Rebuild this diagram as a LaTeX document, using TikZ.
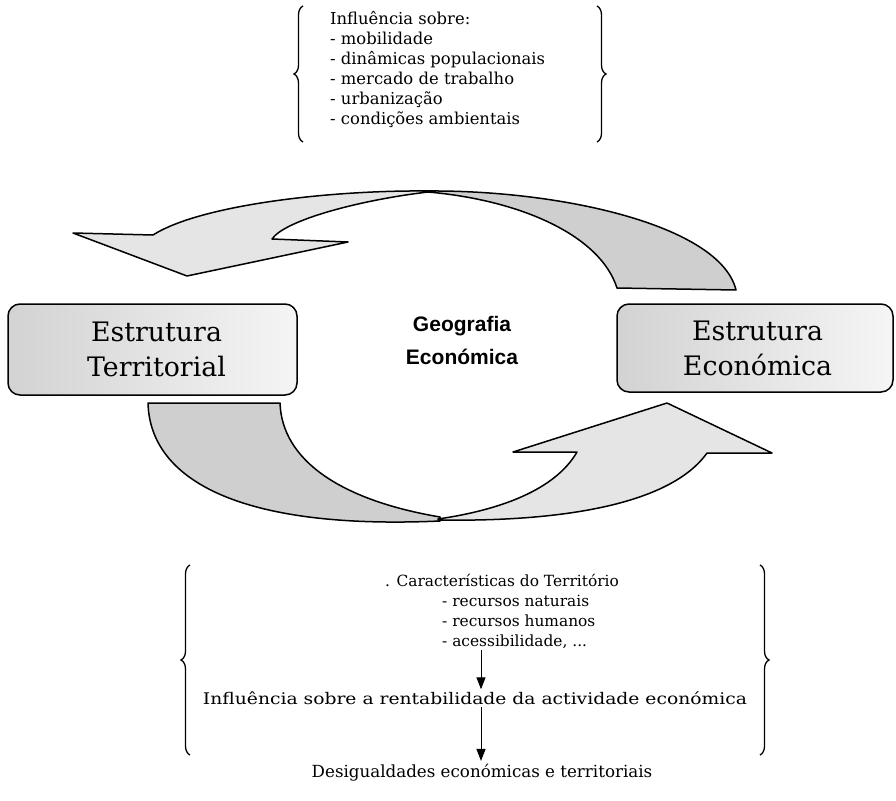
\documentclass[tikz,border=0pt]{standalone}
\usepackage{fontspec}
\setmainfont{DejaVu Serif}
\newfontfamily\headfont{Liberation Sans}
\newfontfamily\widefont[FakeStretch=1.17]{DejaVu Serif}
\usetikzlibrary{decorations.pathreplacing,arrows.meta}

\begin{document}
\begin{tikzpicture}[x=1pt,y=-1pt,
  outline/.style={draw=black, line width=1.5pt, line join=round},
  lightfill/.style={outline, fill=gray!20},
  darkfill/.style={outline, fill=gray!38},
  structbox/.style={draw=black, line width=1.5pt, rounded corners=12pt,
    left color=gray!35, right color=gray!8, minimum height=91pt,
    align=center, font=\fontsize{26.8}{35}\selectfont},
  curly/.style={decorate, decoration={brace, amplitude=9pt}, line width=1.3pt},
  notetext/.style={font=\fontsize{16.4}{20}\selectfont, align=left, inner sep=0pt},
  listitem/.style={font=\fontsize{15.4}{20}\selectfont, inner sep=2pt},
  flow/.style={line width=1pt, -{Triangle[length=12pt,width=9pt]}}
]
\useasboundingbox (0,0) rectangle (896,800);

% ---- influence list at the top ----
\node[notetext, anchor=north west] (infl) at (330,11)
  {Influência sobre:\\- mobilidade\\- dinâmicas populacionais\\- mercado de trabalho\\- urbanização\\- condições ambientais};
\draw[curly] (303,142) -- (303,6);
\draw[curly] (597,6) -- (597,142);

% ---- upper ribbon arrow (economy -> territory) ----
\filldraw[darkfill] (428,191) .. controls (560,190) and (720,225) .. (736,290)
  -- (617,288) .. controls (600,235) and (520,200) .. (428,192) -- cycle;
\filldraw[lightfill] (428,191) .. controls (330,190) and (200,205) .. (153,235)
  -- (73,233) -- (187,276) -- (348,242) -- (272,239)
  .. controls (285,220) and (360,200) .. (428,192) -- cycle;

% ---- lower ribbon arrow (territory -> economy) ----
\filldraw[darkfill] (148,403) -- (280,403) .. controls (282,460) and (340,500) .. (440,517)
  -- (440,521) .. controls (240,530) and (150,480) .. (148,403) -- cycle;
\filldraw[lightfill] (438,519) .. controls (500,510) and (555,490) .. (577,452)
  -- (513,452) -- (667,403) -- (772,453) -- (707,453)
  .. controls (670,505) and (560,522) .. (438,520) -- cycle;

% ---- the two structures and the central title ----
\node[structbox, minimum width=289pt] (terr) at (152.5,349.5)
  {\hspace*{8pt}Estrutura\\\hspace*{8pt}Territorial};
\node[structbox, minimum width=276pt, minimum height=88pt] (econ) at (755,348)
  {\hspace*{5pt}Estrutura\\\hspace*{5pt}Económica};
\node[align=center, font=\headfont\bfseries\fontsize{21}{33}\selectfont] (geo) at (462,340)
  {Geografia\\Económica};

% ---- territorial characteristics and their effect ----
\node[listitem, anchor=base west] (cara) at (383,586) {. Características do Território};
\node[listitem, anchor=base west] (nat) at (440,606) {- recursos naturais};
\node[listitem, anchor=base west] (hum) at (440,626) {- recursos humanos};
\node[listitem, anchor=base west] (acc) at (440,646) {- acessibilidade, ...};
\node[font=\widefont\fontsize{16}{20}\selectfont, inner sep=2pt] (rent) at (475,698)
  {Influência sobre a rentabilidade da actividade económica};
\node[font=\fontsize{16.7}{20}\selectfont] (desig) at (482,773)
  {Desigualdades económicas e territoriais};
\coordinate (ax) at (481,0);
\draw[flow] (acc.south -| ax) -- (rent.north -| ax);
\draw[flow] (rent.south -| ax) -- (desig.north -| ax);
\draw[curly] (190,755) -- (190,565);
\draw[curly] (760,565) -- (760,755);
\end{tikzpicture}
\end{document}
